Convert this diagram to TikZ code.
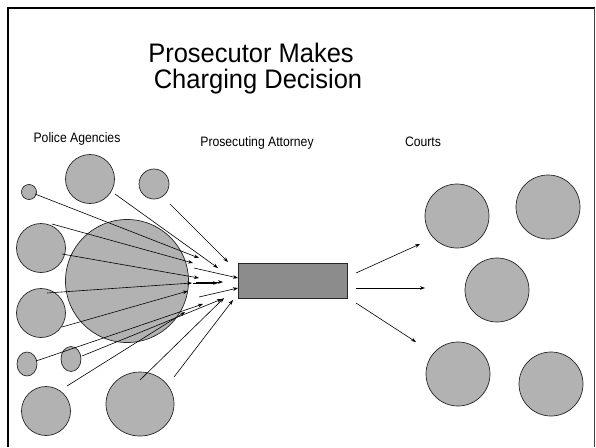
\documentclass[tikz,border=0pt]{standalone}
\usepackage{fontspec}
\setmainfont{Liberation Sans}
\usetikzlibrary{shapes.geometric,arrows.meta}
\definecolor{cfill}{HTML}{B2B2B2}
\definecolor{rfill}{HTML}{8C8C8C}
\tikzset{
  agency/.style={circle,draw=black!85,line width=0.7pt,fill=cfill,inner sep=0pt,minimum size=#1},
  oval/.style 2 args={ellipse,draw=black!85,line width=0.7pt,fill=cfill,inner sep=0pt,minimum width=#1,minimum height=#2},
  arr/.style={line width=0.6pt,-{Stealth[length=5pt,width=3.6pt]}},
  lbl/.style={font=\fontsize{12.2}{14}\selectfont,inner sep=0pt},
  ttl/.style={font=\fontsize{25.5}{25}\selectfont,inner sep=0pt,anchor=base},
}
\newcommand{\tallt}[1]{\scalebox{1}[1.12]{#1}}
\newcommand{\tallttl}[1]{\scalebox{1}[1.05]{#1}}
\begin{document}
\begin{tikzpicture}[x=1pt,y=-1pt]
\useasboundingbox (0,0) rectangle (596,447);
% frame
\draw[line width=2.5pt] (8,447) -- (8,8) -- (594.5,8);
\draw[line width=0.9pt,black!75] (594,8) -- (594,447);
% title and labels
\node[ttl] (title1) at (251,62) {\tallttl{Prosecutor Makes}};
\node[ttl] (title2) at (258,88.5) {\tallttl{Charging Decision}};
\node[lbl] (police) at (77,139) {\tallt{Police Agencies}};
\node[lbl] (pros) at (257,142.5) {\tallt{Prosecuting Attorney}};
\node[lbl] (courts) at (423,142) {\tallt{Courts}};
% police agencies
\node[agency=15pt] (p1) at (29,192) {};
\node[agency=49pt] (p2) at (90,179) {};
\node[agency=30pt] (p3) at (154,184) {};
\node[agency=49pt] (p4) at (41,248) {};
\node[agency=123pt] (big) at (127,281) {};
\node[agency=49pt] (p5) at (41,313) {};
\node[oval={20pt}{24pt}] (e1) at (27,364) {};
\node[oval={20pt}{25pt}] (e2) at (71,359) {};
\node[agency=49pt] (p6) at (46,411) {};
\node[oval={68pt}{64pt}] (p7) at (140,404) {};
% prosecutor
\node[draw=black!85,line width=0.7pt,fill=rfill,minimum width=109pt,minimum height=35pt,inner sep=0pt] (pa) at (292.5,280.5) {};
% courts
\node[agency=64pt] (c1) at (457,216) {};
\node[agency=64pt] (c2) at (548,207) {};
\node[agency=64pt] (c3) at (497,290) {};
\node[agency=64pt] (c4) at (458,374) {};
\node[agency=64pt] (c5) at (551,384) {};
% incoming arrows
\foreach \i/\sx/\sy/\tx/\ty in {
  1/35/194/199/258, 2/115/194/218/268, 3/170/204/228/262, 4/52/224/193/263,
  5/62/254/199/278, 6/194/268/238/278, 7/47/293/192/283, 8/193/283/218/283,
  9/196/282/223/282, 10/199/297/238/288, 11/62/327/188/291, 12/36/361/203/304,
  13/82/356/222/299, 14/67/386/185/312, 15/140/380/224/298, 16/174/377/233/300}{
  \coordinate (s\i) at (\sx,\sy);
  \coordinate (t\i) at (\tx,\ty);
  \draw[arr] (s\i) -- (t\i);
}
% outgoing arrows
\foreach \i/\sx/\sy/\tx/\ty in {1/356/273/420/244, 2/356/288/425/288, 3/356/303/416/342}{
  \coordinate (o\i) at (\sx,\sy);
  \coordinate (q\i) at (\tx,\ty);
  \draw[arr] (o\i) -- (q\i);
}
\end{tikzpicture}
\end{document}
